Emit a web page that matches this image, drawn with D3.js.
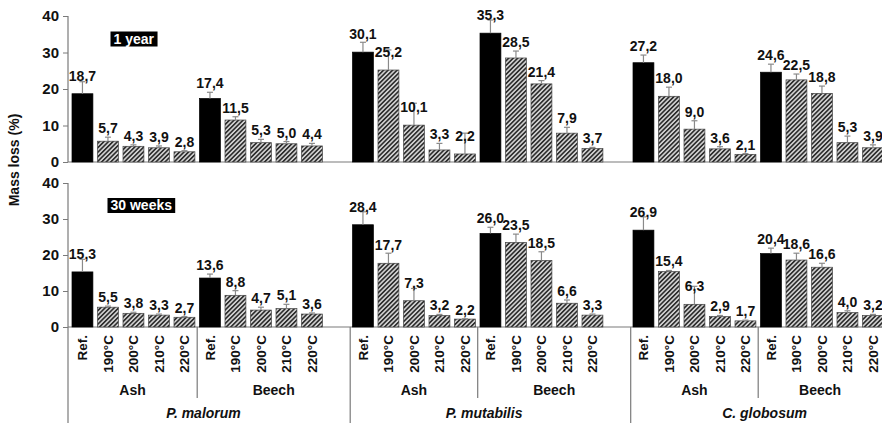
<!DOCTYPE html>
<html>
<head>
<meta charset="utf-8">
<script src="https://cdn.jsdelivr.net/npm/d3@7/dist/d3.min.js"></script>
<style>
  html, body { margin: 0; padding: 0; background: #fff; }
  svg { display: block; font-family: "Liberation Sans", Arial, sans-serif; }
</style>
</head>
<body>
<svg id="chart" width="882" height="423"></svg>
<script>
// Categories
const fungi = ["P. malorum", "P. mutabilis", "C. globosum"];
const woods = ["Ash", "Beech"];
const treatments = ["Ref.", "190°C", "200°C", "210°C", "220°C"];
const panelTitles = ["1 year", "30 weeks"];
const yTicks = [0, 10, 20, 30, 40];

// Mass loss (%) — order: fungus → wood → treatment
const lossYear1 = [
  18.7, 5.7, 4.3, 3.9, 2.8,   17.4, 11.5, 5.3, 5.0, 4.4,
  30.1, 25.2, 10.1, 3.3, 2.2,  35.3, 28.5, 21.4, 7.9, 3.7,
  27.2, 18.0, 9.0, 3.6, 2.1,   24.6, 22.5, 18.8, 5.3, 3.9
];
const errYear1 = [
  3.3, 1.1, 0.4, 0.5, 0.3,   1.7, 0.9, 0.9, 0.6, 0.7,
  2.7, 5.5, 6.0, 1.8, 5.7,   3.6, 1.9, 0.9, 1.6, 0.3,
  2.1, 2.5, 2.3, 0.6, 0.2,   2.2, 1.6, 2.0, 1.8, 0.8
];
const lossWeeks30 = [
  15.3, 5.5, 3.8, 3.3, 2.7,   13.6, 8.8, 4.7, 5.1, 3.6,
  28.4, 17.7, 7.3, 3.2, 2.2,  26.0, 23.5, 18.5, 6.6, 3.3,
  26.9, 15.4, 6.3, 2.9, 1.7,  20.4, 18.6, 16.6, 4.0, 3.2
];
const errWeeks30 = [
  3.5, 0.3, 0.3, 0.3, 0.2,   1.1, 1.3, 0.8, 1.2, 0.3,
  3.6, 2.8, 3.4, 0.3, 0.1,   1.7, 2.3, 2.4, 0.9, 0.3,
  3.7, 0.3, 5.0, 0.3, 0.2,   1.5, 1.9, 1.1, 0.5, 0.3
];

const W = 882, H = 423;
const svg = d3.select("#chart");
const axisColor = "#7a7a7a";
const textColor = "#111";

// Each fungus occupies 11 slots: 5 Ash, 5 Beech, 1 empty spacer
const slotsPerFungus = 11;
const slotKeys = d3.range(fungi.length * slotsPerFungus);
const step = 25.5;
const xStart = 69.7;
const x = d3.scaleBand()
  .domain(slotKeys)
  .range([xStart, xStart + slotKeys.length * step])
  .paddingInner(0.18)
  .paddingOuter(0.09);
const slotEdge = i => xStart + i * step;

const rows = [];
fungi.forEach((f, fi) => woods.forEach((w, wi) => treatments.forEach((t, ti) => {
  rows.push({ fungus: f, wood: w, treat: t, ref: ti === 0,
              slot: fi * slotsPerFungus + wi * treatments.length + ti });
})));

const panels = [
  { title: panelTitles[0], values: lossYear1, errs: errYear1, y0: 162, y1: 16 },
  { title: panelTitles[1], values: lossWeeks30, errs: errWeeks30, y0: 327, y1: 183 }
];

// Diagonal hatch for the heat-treated samples
const defs = svg.append("defs");
const pat = defs.append("pattern")
  .attr("id", "hatch").attr("patternUnits", "userSpaceOnUse")
  .attr("width", 3.2).attr("height", 3.2)
  .attr("patternTransform", "rotate(45)");
pat.append("rect").attr("width", 3.2).attr("height", 3.2).attr("fill", "#d4d4d4");
pat.append("line").attr("x1", 0.8).attr("y1", 0).attr("x2", 0.8).attr("y2", 3.2)
  .attr("stroke", "#2e2e2e").attr("stroke-width", 1.7);

panels.forEach((p, pi) => {
  const y = d3.scaleLinear().domain([0, 40]).range([p.y0, p.y1]);
  const g = svg.append("g");

  // y axis
  const ax = g.append("g").attr("transform", `translate(68,0)`)
    .call(d3.axisLeft(y).tickValues(yTicks).tickSize(5).tickPadding(4).tickSizeOuter(0));
  ax.select(".domain").remove();
  ax.selectAll(".tick line").attr("stroke", axisColor);
  ax.selectAll(".tick text").attr("fill", textColor)
    .style("font-size", "15px").style("font-weight", "bold");

  // vertical axis line (lower panel continues down through the category labels)
  g.append("line").attr("x1", 68).attr("x2", 68)
    .attr("y1", y(40)).attr("y2", pi === 0 ? y(0) : H)
    .attr("stroke", axisColor).attr("stroke-width", 1.2);
  // baseline
  g.append("line").attr("x1", 68).attr("x2", W)
    .attr("y1", y(0)).attr("y2", y(0))
    .attr("stroke", axisColor).attr("stroke-width", 1.2);

  // bars
  g.selectAll("rect.bar").data(rows).join("rect")
    .attr("class", "bar")
    .attr("x", d => x(d.slot))
    .attr("width", x.bandwidth())
    .attr("y", (d, i) => y(p.values[i]))
    .attr("height", (d, i) => y(0) - y(p.values[i]))
    .attr("fill", d => d.ref ? "#000" : "url(#hatch)")
    .attr("stroke", d => d.ref ? "#000" : "#444")
    .attr("stroke-width", 0.7);

  // error bars (upper whisker only)
  const eb = g.selectAll("g.err").data(rows).join("g").attr("class", "err");
  eb.append("line")
    .attr("x1", d => x(d.slot) + x.bandwidth() / 2)
    .attr("x2", d => x(d.slot) + x.bandwidth() / 2)
    .attr("y1", (d, i) => y(p.values[i]))
    .attr("y2", (d, i) => y(p.values[i] + p.errs[i]))
    .attr("stroke", "#8a8a8a").attr("stroke-width", 1.2);
  eb.append("line")
    .attr("x1", d => x(d.slot) + x.bandwidth() / 2 - 3)
    .attr("x2", d => x(d.slot) + x.bandwidth() / 2 + 3)
    .attr("y1", (d, i) => y(p.values[i] + p.errs[i]))
    .attr("y2", (d, i) => y(p.values[i] + p.errs[i]))
    .attr("stroke", "#8a8a8a").attr("stroke-width", 1.2);

  // value labels (decimal comma)
  g.selectAll("text.val").data(rows).join("text")
    .attr("class", "val")
    .attr("x", d => x(d.slot) + x.bandwidth() / 2)
    .attr("y", (d, i) => y(p.values[i] + Math.min(p.errs[i], 2.5)) - 4)
    .attr("text-anchor", "middle")
    .attr("fill", textColor)
    .style("font-size", "14px").style("font-weight", "bold")
    .text((d, i) => p.values[i].toFixed(1).replace(".", ","));

  // panel title box
  const tx = pi === 0 ? 113.5 : 110.5;
  const ty = pi === 0 ? 43.5 : 210;
  const box = g.append("rect").attr("fill", "#000");
  const tt = g.append("text").attr("x", tx).attr("y", ty)
    .attr("fill", "#fff").style("font-size", "14px").style("font-weight", "bold")
    .text(p.title);
  const bb = tt.node().getBBox();
  box.attr("x", bb.x - 3).attr("y", bb.y + 1).attr("width", bb.width + 6).attr("height", bb.height - 1);
});

// Category axis (below the lower panel)
const catTop = 335;
svg.append("g").selectAll("text").data(rows).join("text")
  .attr("transform", d => `translate(${x(d.slot) + x.bandwidth() / 2},${catTop}) rotate(-90)`)
  .attr("dy", "0.36em")
  .attr("text-anchor", "end")
  .attr("fill", textColor)
  .style("font-size", "13.5px").style("font-weight", "bold")
  .text(d => d.treat);

// separators: wood (short) and fungus (full height)
const sepG = svg.append("g");
fungi.forEach((f, fi) => {
  const base = fi * slotsPerFungus;
  if (fi > 0) {
    sepG.append("line").attr("x1", slotEdge(base)).attr("x2", slotEdge(base))
      .attr("y1", 327).attr("y2", H).attr("stroke", axisColor).attr("stroke-width", 1.2);
  }
  const mid = slotEdge(base + treatments.length);
  sepG.append("line").attr("x1", mid).attr("x2", mid)
    .attr("y1", 327).attr("y2", 398).attr("stroke", axisColor).attr("stroke-width", 1.2);

  const left = fi === 0 ? 68 : slotEdge(base);
  const right = Math.min(slotEdge(base + slotsPerFungus), W);
  // wood labels
  svg.append("text").attr("x", (left + mid) / 2).attr("y", 395)
    .attr("text-anchor", "middle").attr("fill", textColor)
    .style("font-size", "14px").style("font-weight", "bold").text(woods[0]);
  svg.append("text").attr("x", (mid + right) / 2).attr("y", 395)
    .attr("text-anchor", "middle").attr("fill", textColor)
    .style("font-size", "14px").style("font-weight", "bold").text(woods[1]);
  // fungus label
  svg.append("text").attr("x", slotEdge(base + 5.25)).attr("y", 418)
    .attr("text-anchor", "middle").attr("fill", textColor)
    .style("font-size", "14px").style("font-weight", "bold").style("font-style", "italic")
    .text(f);
});

// y-axis title
svg.append("text")
  .attr("transform", "translate(14,160) rotate(-90)")
  .attr("dy", "0.35em")
  .attr("text-anchor", "middle")
  .attr("fill", textColor)
  .style("font-size", "14px").style("font-weight", "bold")
  .text("Mass loss (%)");
</script>
</body>
</html>
